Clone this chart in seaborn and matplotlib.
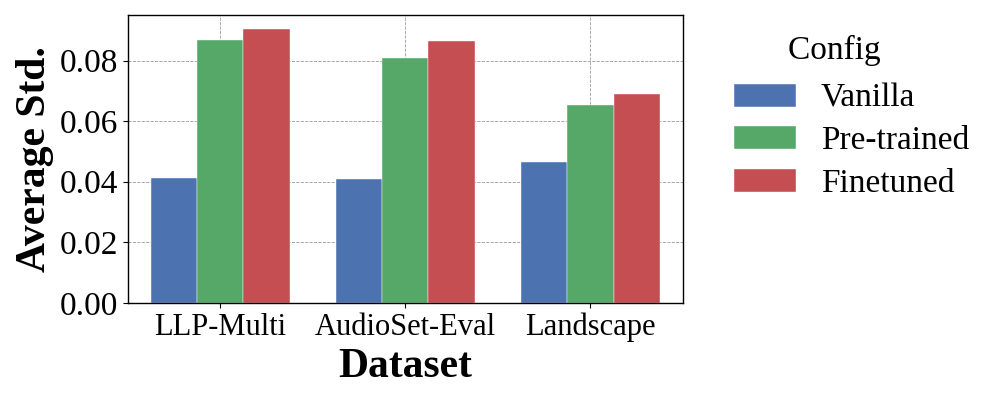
import matplotlib
matplotlib.use("Agg")
import matplotlib.pyplot as plt
import seaborn as sns
import pandas as pd

datasets = ["LLP-Multi", "AudioSet-Eval", "Landscape"]
configs = ["Vanilla", "Pre-trained", "Finetuned"]
vanilla = [0.0412, 0.0409, 0.0466]
pretrained = [0.0868, 0.0810, 0.0654]
finetuned = [0.0903, 0.0866, 0.0689]

rows = []
for cfg, vals in zip(configs, [vanilla, pretrained, finetuned]):
    for ds, v in zip(datasets, vals):
        rows.append({"Dataset": ds, "Config": cfg, "Average Std.": v})
df = pd.DataFrame(rows)

sns.set_style("ticks")
plt.rcParams["font.family"] = ["Liberation Serif", "DejaVu Serif"]
plt.rcParams["text.color"] = "black"
plt.rcParams["axes.labelcolor"] = "black"
plt.rcParams["xtick.color"] = "black"
plt.rcParams["ytick.color"] = "black"

deep = sns.color_palette("deep")
colors = [deep[0], deep[2], deep[3]]

fig = plt.figure(figsize=(9.97, 3.98), dpi=100)
ax = fig.add_axes([0.128, 0.239, 0.557, 0.723])

sns.barplot(data=df, x="Dataset", y="Average Std.", hue="Config",
            palette=colors, saturation=1, width=0.75,
            edgecolor="white", linewidth=0.3, ax=ax)

ax.set_axisbelow(True)
ax.grid(True, axis="both", linestyle="--", color="gray", linewidth=0.6, alpha=0.8)
ax.set_ylim(0, 0.095)
ax.set_xlim(-0.5, 2.5)
ax.set_yticks([0, 0.02, 0.04, 0.06, 0.08])
ax.set_yticklabels(["0.00", "0.02", "0.04", "0.06", "0.08"])
ax.tick_params(axis="y", labelsize=24)
ax.tick_params(axis="x", labelsize=22)
ax.set_xlabel("Dataset", fontsize=30, fontweight="bold")
ax.set_ylabel("Average Std.", fontsize=30, fontweight="bold")
for s in ax.spines.values():
    s.set_color("black")
    s.set_linewidth(1.0)

leg = ax.legend(title="Config    ", fontsize=24, title_fontsize=24, frameon=False,
                loc="upper left", bbox_to_anchor=(1.038, 1.035),
                handlelength=1.85, handletextpad=0.75, labelspacing=0.36)
# a bit more room between the title and the entries
leg._legend_box.sep = 12.4

fig.savefig("out.png", dpi=100)
